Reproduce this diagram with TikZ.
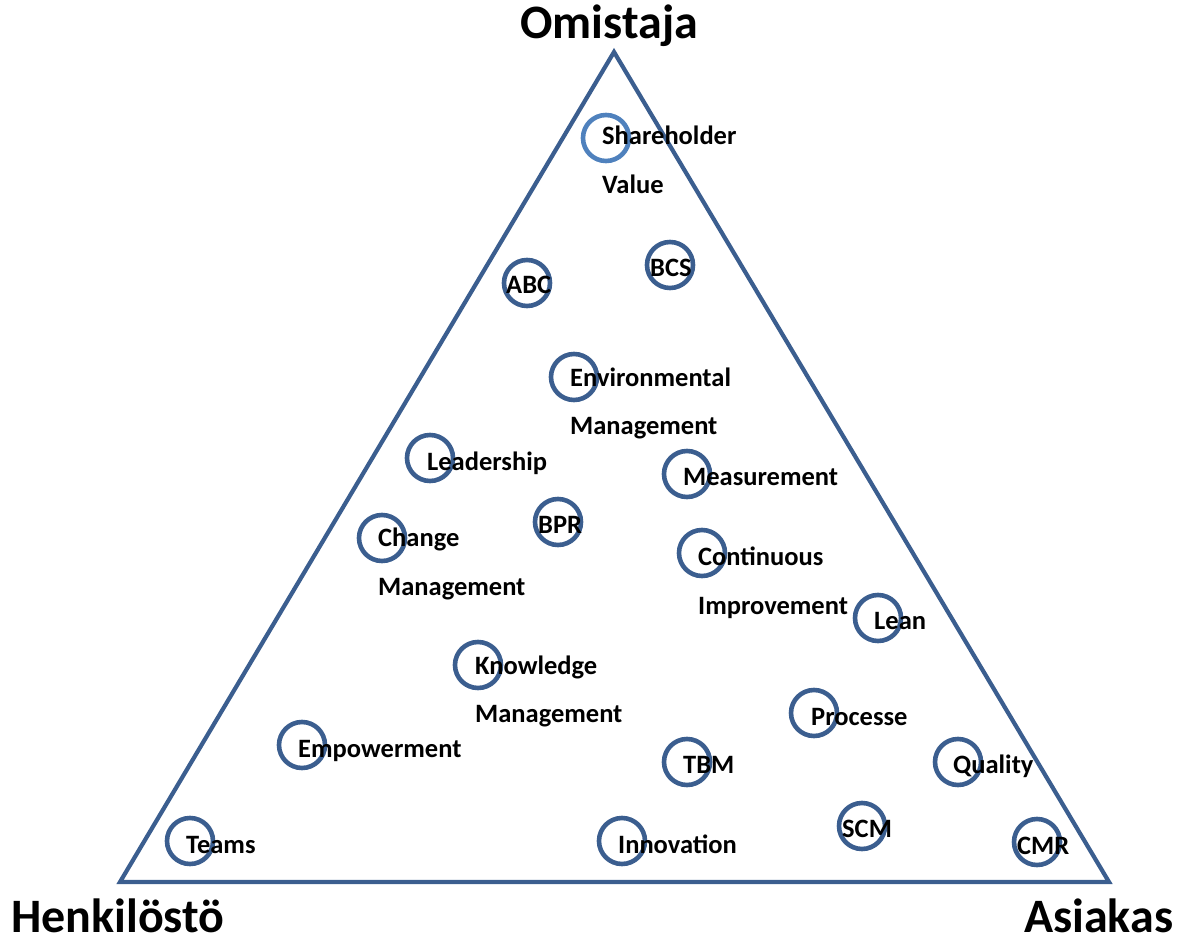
\documentclass[tikz,border=0pt]{standalone}
\usepackage{fontspec}
\setmainfont{Carlito}
\definecolor{tri}{HTML}{3B5E8F}
\definecolor{ring}{HTML}{3B5E8F}
\definecolor{ringlight}{HTML}{4F81BD}
\begin{document}
\begin{tikzpicture}[x=1pt,y=-1pt,
  ringnode/.style={circle,draw=ring,line width=4.6pt,minimum size=46pt,inner sep=0pt},
  lightring/.style={ringnode,draw=ringlight},
  lbl/.style={anchor=base west,inner sep=0pt,font=\fontsize{26.5}{30}\selectfont\bfseries},
  title/.style={anchor=base west,inner sep=0pt,font=\fontsize{48}{56}\selectfont\bfseries}]
\useasboundingbox (0,0) rectangle (1190,941);
% triangle
\coordinate (top) at (614,52);
\coordinate (bl) at (120,882);
\coordinate (br) at (1109,882);
\draw[tri,line width=4.2pt,line join=miter] (top) -- (br) -- (bl) -- cycle;
% circles
\node[lightring] (c1) at (606,138) {};
\node[ringnode] (c2) at (527,283) {};
\node[ringnode] (c3) at (670,265) {};
\node[ringnode] (c4) at (574,377) {};
\node[ringnode] (c5) at (430,458) {};
\node[ringnode] (c6) at (687,474) {};
\node[ringnode] (c7) at (558,522) {};
\node[ringnode] (c8) at (382,538) {};
\node[ringnode] (c9) at (702,553) {};
\node[ringnode] (c10) at (878,618) {};
\node[ringnode] (c11) at (478,665) {};
\node[ringnode] (c12) at (814,713) {};
\node[ringnode] (c13) at (302,745) {};
\node[ringnode] (c14) at (687,762) {};
\node[ringnode] (c15) at (958,762) {};
\node[ringnode] (c16) at (862,826) {};
\node[ringnode] (c17) at (622,841) {};
\node[ringnode] (c18) at (190,841) {};
\node[ringnode] (c19) at (1037,842) {};
% labels
\node[lbl] (t1) at (602,145) {Shareholder};
\node[lbl] (t1b) at (602,194) {Value};
\node[lbl] (t2) at (506,293) {ABC};
\node[lbl] (t3) at (650,276) {BCS};
\node[lbl] (t4) at (570,386) {Environmental};
\node[lbl] (t4b) at (570,434) {Management};
\node[lbl] (t5) at (427,470) {Leadership};
\node[lbl] (t6) at (683,485) {Measurement};
\node[lbl] (t7) at (538,533) {BPR};
\node[lbl] (t8) at (378,546) {Change};
\node[lbl] (t8b) at (378,595) {Management};
\node[lbl] (t9) at (698,565) {Continuous};
\node[lbl] (t9b) at (698,614) {Improvement};
\node[lbl] (t10) at (874,629) {Lean};
\node[lbl] (t11) at (475,674) {Knowledge};
\node[lbl] (t11b) at (475,722) {Management};
\node[lbl] (t12) at (811,725) {Processe};
\node[lbl] (t13) at (298,757) {Empowerment};
\node[lbl] (t14) at (683,773) {TBM};
\node[lbl] (t15) at (953,773) {Quality};
\node[lbl] (t16) at (842,837) {SCM};
\node[lbl] (t17) at (618,853) {Innovation};
\node[lbl] (t18) at (186,853) {Teams};
\node[lbl] (t19) at (1017,854) {CMR};
% titles
\node[title] (omistaja) at (520,39) {Omistaja};
\node[title] (henkilosto) at (11,932) {Henkilöstö};
\node[title] (asiakas) at (1024,932) {Asiakas};
\end{tikzpicture}
\end{document}
